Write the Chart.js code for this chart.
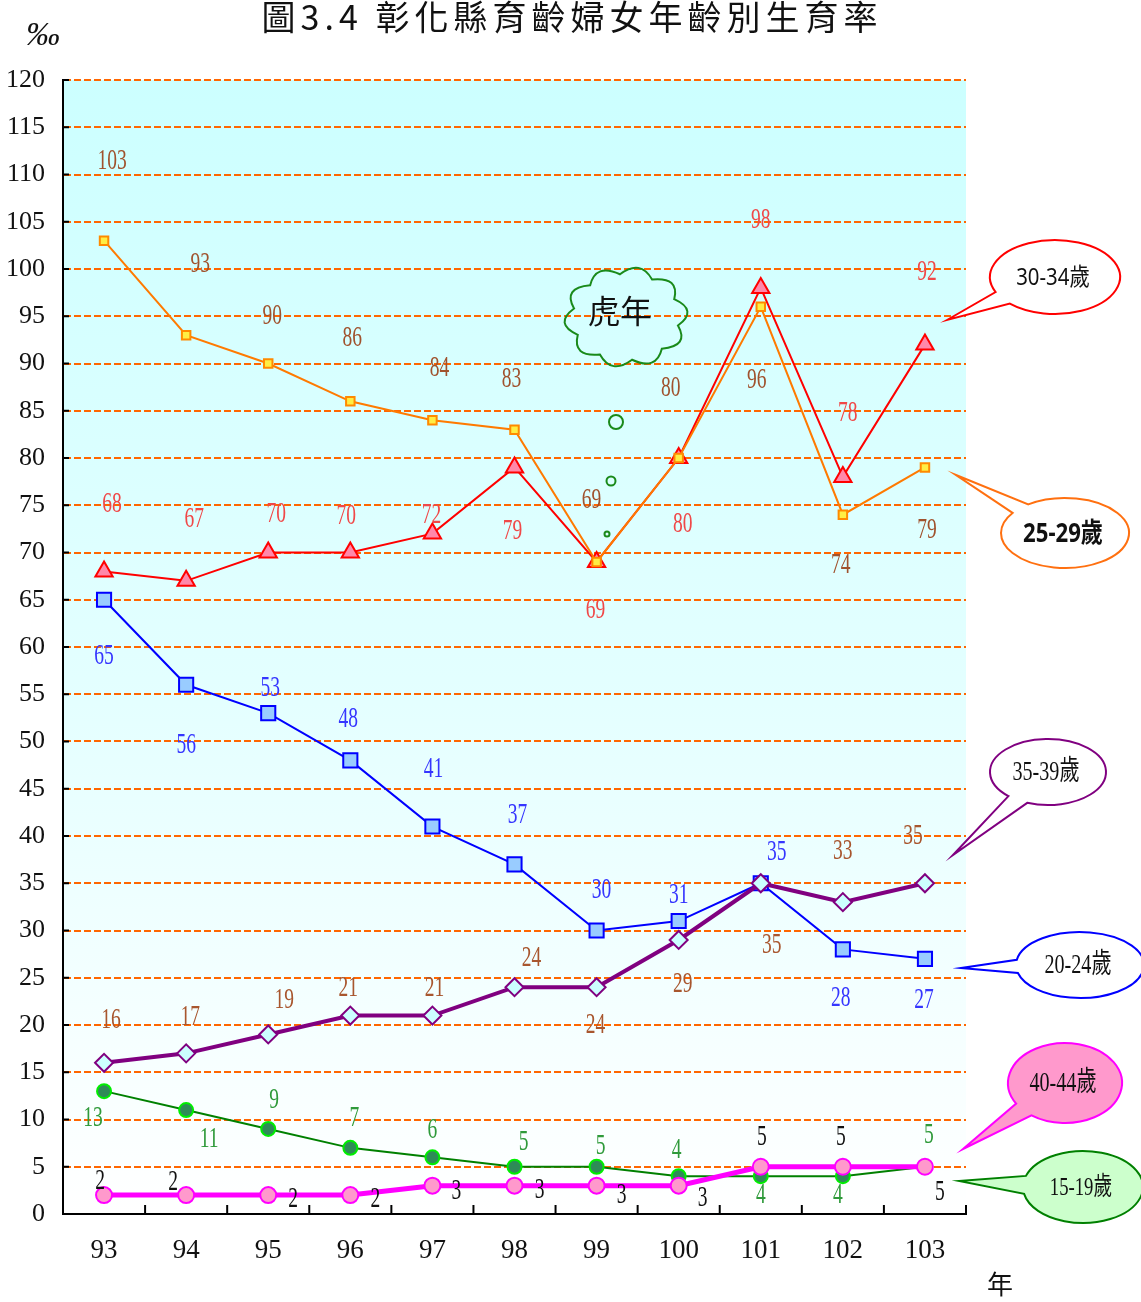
<!DOCTYPE html>
<html>
<head>
<meta charset="utf-8">
<script src="https://cdn.jsdelivr.net/npm/chart.js@4.4.1/dist/chart.umd.min.js"></script>
<style>
  html, body { margin: 0; padding: 0; background: #fff; }
  #wrap { width: 1141px; height: 1302px; }
</style>
</head>
<body>
<div id="wrap"><canvas id="birthchart" width="1141" height="1302"></canvas></div>
<script>
// 民國年
const years = ["93", "94", "95", "96", "97", "98", "99", "100", "101", "102", "103"];

// 各年齡組生育率 (‰)
const age15_19 = [13, 11, 9, 7, 6, 5, 5, 4, 4, 4, 5];
const age20_24 = [65, 56, 53, 48, 41, 37, 30, 31, 35, 28, 27];
const age25_29 = [103, 93, 90, 86, 84, 83, 69, 80, 96, 74, 79];
const age30_34 = [68, 67, 70, 70, 72, 79, 69, 80, 98, 78, 92];
const age35_39 = [16, 17, 19, 21, 21, 24, 24, 29, 35, 33, 35];
const age40_44 = [2, 2, 2, 2, 3, 3, 3, 3, 5, 5, 5];

const yTicksMin = 0, yTicksMax = 120, yStep = 5;

// label offsets (px, relative to the point) - layout only
const labelOffsets = {
    "15-19歲": [[-11,27],[23,29],[6,-29],[4,-30],[0,-27],[9,-25],[4,-21],[-2,-26],[0,19],[-5,19],[4,-32]],
    "20-24歲": [[0,56],[0,60],[2,-25],[-2,-41],[1,-57],[3,-49],[5,-40],[0,-26],[16,-31],[-2,49],[-1,41]],
    "25-29歲": [[8,-80],[14,-71],[4,-47],[2,-63],[7,-52],[-3,-51],[-5,-62],[-8,-70],[-4,73],[-2,50],[2,63]],
    "30-34歲": [[8,-67],[8,-62],[8,-38],[-4,-36],[-1,-18],[-2,64],[-1,48],[4,66],[0,-68],[5,-64],[2,-72]],
    "35-39歲": [[7,-43],[4,-36],[16,-34],[-2,-27],[2,-27],[17,-29],[-1,38],[4,44],[11,62],[0,-51],[-12,-47]],
    "40-44歲": [[-4,-14],[-13,-13],[25,4],[25,4],[24,5],[25,4],[25,9],[24,12],[1,-30],[-2,-30],[15,25]]
};
const labelColors = {
    "15-19歲": "#2f9a3a",
    "20-24歲": "#3535ff",
    "25-29歲": "#a0522d",
    "30-34歲": "#f04848",
    "35-39歲": "#a8562e",
    "40-44歲": "#111111"
};

// callout bubbles
const callouts = [
    { text: "30-34歲", cx: 1055, cy: 277, rx: 65, ry: 37, a1: 134, a2: 156, tip: [947, 320], stroke: "#ff0000", fill: "#ffffff", font: "24px 'Liberation Sans Narrow', 'Noto Sans', 'Noto Sans CJK TC'", sx: 0.85 },
    { text: "25-29歲", cx: 1065, cy: 533, rx: 64, ry: 35, a1: 215, a2: 235, tip: [956, 475], stroke: "#ff7010", fill: "#ffffff", font: "bold 27px 'Liberation Sans Narrow', 'Noto Sans', 'Noto Sans CJK TC'", sx: 0.82 },
    { text: "35-39歲", cx: 1048, cy: 772, rx: 58, ry: 33, a1: 111, a2: 133, tip: [953, 855], stroke: "#800080", fill: "#ffffff", font: "28px 'Liberation Serif', 'Noto Sans CJK TC'", sx: 0.72 },
    { text: "20-24歲", cx: 1080, cy: 965, rx: 64, ry: 33, a1: 166, a2: 189, tip: [961, 968], stroke: "#0000ff", fill: "#ffffff", font: "28px 'Liberation Serif', 'Noto Sans CJK TC'", sx: 0.72 },
    { text: "40-44歲", cx: 1065, cy: 1083, rx: 57, ry: 40, a1: 126, a2: 149, tip: [963, 1149], stroke: "#ff00ff", fill: "#ff99cc", font: "28px 'Liberation Serif', 'Noto Sans CJK TC'", sx: 0.72 },
    { text: "15-19歲", cx: 1083, cy: 1187, rx: 60, ry: 36, a1: 169, a2: 198, tip: [959, 1181], stroke: "#008000", fill: "#ccffcc", font: "26px 'Liberation Serif', 'Noto Sans CJK TC'", sx: 0.72 }
];

function condensedText(ctx, text, x, y, font, color, sx) {
    ctx.save();
    ctx.font = font;
    ctx.fillStyle = color;
    ctx.textAlign = "center";
    ctx.textBaseline = "middle";
    ctx.translate(x, y);
    ctx.scale(sx, 1);
    ctx.fillText(text, 0, 0);
    ctx.restore();
}

function drawCallout(ctx, c) {
    const r = Math.PI / 180;
    const a1 = c.a1 * r, a2 = c.a2 * r;
    ctx.save();
    ctx.beginPath();
    ctx.moveTo(c.tip[0], c.tip[1]);
    ctx.lineTo(c.cx + c.rx * Math.cos(a2), c.cy + c.ry * Math.sin(a2));
    ctx.ellipse(c.cx, c.cy, c.rx, c.ry, 0, a2, a1 + Math.PI * 2, false);
    ctx.closePath();
    ctx.fillStyle = c.fill;
    ctx.fill();
    ctx.lineWidth = 2;
    ctx.strokeStyle = c.stroke;
    ctx.stroke();
    ctx.restore();
    condensedText(ctx, c.text, c.cx - 2, c.cy + 1, c.font, "#111", c.sx);
}

function drawCloud(ctx, cx, cy, rx, ry, bumps) {
    ctx.save();
    ctx.beginPath();
    for (let i = 0; i < bumps; i++) {
        const a0 = i / bumps * Math.PI * 2 + 0.2;
        const a1 = (i + 1) / bumps * Math.PI * 2 + 0.2;
        const am = (a0 + a1) / 2;
        if (i === 0) ctx.moveTo(cx + rx * Math.cos(a0), cy + ry * Math.sin(a0));
        ctx.quadraticCurveTo(cx + rx * 1.38 * Math.cos(am), cy + ry * 1.38 * Math.sin(am),
                             cx + rx * Math.cos(a1), cy + ry * Math.sin(a1));
    }
    ctx.closePath();
    ctx.strokeStyle = "#1a8a1a";
    ctx.lineWidth = 2;
    ctx.stroke();
    // little thought bubbles
    [[616, 422, 7], [611, 481, 4.5], [607, 534, 2.5]].forEach(b => {
        ctx.beginPath();
        ctx.arc(b[0], b[1], b[2], 0, Math.PI * 2);
        ctx.stroke();
    });
    ctx.restore();
}

const decorPlugin = {
    id: "decor",
    beforeDraw(chart) {
        const { ctx, chartArea: a } = chart;
        const g = ctx.createLinearGradient(0, a.top, 0, a.bottom);
        g.addColorStop(0, "#ccffff");
        g.addColorStop(0.55, "#e4ffff");
        g.addColorStop(1, "#ffffff");
        ctx.save();
        ctx.fillStyle = g;
        ctx.fillRect(a.left, a.top, a.right - a.left, a.bottom - a.top);
        ctx.restore();
    },
    afterDatasetsDraw(chart) {
        const ctx = chart.ctx;
        chart.data.datasets.forEach((ds, di) => {
            const meta = chart.getDatasetMeta(di);
            const offs = labelOffsets[ds.label];
            meta.data.forEach((pt, i) => {
                const o = offs[i];
                condensedText(ctx, String(ds.data[i]), pt.x + o[0], pt.y + o[1],
                    "30px 'Liberation Serif'", labelColors[ds.label], 0.65);
            });
        });
    },
    afterDraw(chart) {
        const { ctx, chartArea: a, scales } = chart;
        const x = scales.x, y = scales.y;
        ctx.save();
        // inner tick marks
        ctx.strokeStyle = "#000";
        ctx.lineWidth = 2;
        y.ticks.forEach(t => {
            const py = y.getPixelForValue(t.value);
            ctx.beginPath();
            ctx.moveTo(a.left, py);
            ctx.lineTo(a.left + 6, py);
            ctx.stroke();
        });
        const half = (x.getPixelForValue(1) - x.getPixelForValue(0)) / 2;
        for (let i = 0; i < years.length; i++) {
            const px = x.getPixelForValue(i) + half;
            ctx.beginPath();
            ctx.moveTo(px, a.bottom);
            ctx.lineTo(px, a.bottom - 9);
            ctx.stroke();
        }
        ctx.restore();

        drawCloud(ctx, 626, 317, 53, 43, 10);
        ctx.save();
        ctx.font = "32px 'Noto Sans CJK TC'";
        ctx.fillStyle = "#111";
        ctx.textAlign = "center";
        ctx.textBaseline = "middle";
        ctx.fillText("虎年", 620, 311);
        ctx.restore();

        callouts.forEach(c => drawCallout(ctx, c));

        // title and unit texts
        ctx.save();
        ctx.fillStyle = "#111";
        ctx.textAlign = "center";
        ctx.textBaseline = "middle";
        ctx.font = "34px 'Noto Sans CJK TC'";
        ctx.letterSpacing = "5px";
        ctx.fillText("圖3.4 彰化縣育齡婦女年齡別生育率", 572, 17);
        ctx.letterSpacing = "0px";
        ctx.font = "italic 34px 'Liberation Serif'";
        ctx.fillText("‰", 43, 36);
        ctx.font = "26px 'Noto Sans CJK TC'";
        ctx.fillText("年", 1000, 1284);
        ctx.restore();
    }
};

function series(label, data, color, width, style, radius, fill, edge, order) {
    return {
        label: label,
        data: data,
        borderColor: color,
        borderWidth: width,
        pointStyle: style,
        pointRadius: radius,
        pointHoverRadius: radius,
        pointBackgroundColor: fill,
        pointBorderColor: edge,
        pointBorderWidth: 2,
        tension: 0,
        fill: false,
        clip: false,
        order: order
    };
}

const ctx = document.getElementById("birthchart").getContext("2d");
new Chart(ctx, {
    type: "line",
    data: {
        labels: years,
        datasets: [
            series("40-44歲", age40_44, "#ff00ff", 5, "circle", 8, "#ff99cc", "#ff00ff", 0),
            series("15-19歲", age15_19, "#008000", 2, "circle", 7, "#2e8b57", "#00ee00", 1),
            series("35-39歲", age35_39, "#800080", 4, "rectRot", 9, "#ccffff", "#800080", 2),
            series("20-24歲", age20_24, "#0000ff", 2, "rect", 10, "#99ccff", "#0000ff", 3),
            series("25-29歲", age25_29, "#ff7a00", 2, "rect", 6, "#ffee44", "#ff8a00", 4),
            series("30-34歲", age30_34, "#ff0000", 2, "triangle", 10, "#ff88aa", "#ff0000", 5)
        ]
    },
    options: {
        responsive: false,
        animation: false,
        events: [],
        layout: { padding: { top: 80, right: 175, bottom: 0, left: 0 } },
        plugins: {
            legend: { display: false },
            title: { display: false },
            tooltip: { enabled: false }
        },
        scales: {
            x: {
                offset: true,
                afterFit: s => { s.height = 88; },
                grid: { display: false, drawTicks: false },
                border: { display: true, color: "#000", width: 2 },
                ticks: { color: "#111", padding: 21, font: { family: "'Liberation Serif'", size: 27 }, maxRotation: 0 }
            },
            y: {
                min: yTicksMin,
                max: yTicksMax,
                afterFit: s => { s.width = 63; },
                grid: { color: "#ff6600", lineWidth: 2, drawTicks: false },
                border: { display: true, color: "#000", width: 2, dash: [7, 3] },
                ticks: { stepSize: yStep, color: "#111", padding: 18, font: { family: "'Liberation Serif'", size: 26 } }
            }
        }
    },
    plugins: [decorPlugin]
});
</script>
</body>
</html>
